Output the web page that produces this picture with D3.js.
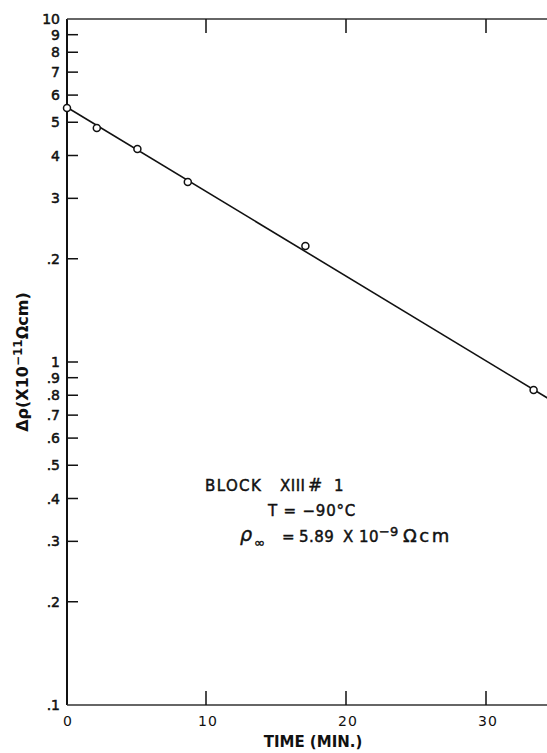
<!DOCTYPE html>
<html>
<head>
<meta charset="utf-8">
<script src="https://cdn.jsdelivr.net/npm/d3@7"></script>
<style>
  body { margin: 0; background: #fff; }
  svg { display: block; }
  text { font-family: "DejaVu Sans", sans-serif; fill: #111; }
</style>
</head>
<body>
<svg id="chart" width="547" height="753"></svg>
<script>
// measured points (time in min, delta rho in 1e-11 ohm cm)
const times = [0, 2.2, 5.1, 8.7, 17.1, 33.4];
const deltaRho = [5.5, 4.81, 4.18, 3.35, 2.18, 0.829];

// fitted straight line on the semilog plot
const fitTimes = [0, 34.4];
const fitValues = [5.55, 0.785];

const yTickValues = [10, 9, 8, 7, 6, 5, 4, 3, 2, 1, 0.9, 0.8, 0.7, 0.6, 0.5, 0.4, 0.3, 0.2, 0.1];
const yTickLabels = ["10", "9", "8", "7", "6", "5", "4", "3", ".2", "1", ".9", ".8", ".7", ".6", ".5", ".4", ".3", ".2", ".1"];
const xTickValues = [0, 10, 20, 30];
const xTickLabels = ["0", "10", "20", "30"];

const svg = d3.select("#chart");
const plotLeft = 67, plotTop = 19, plotBottom = 705, plotRight = 547;

const x = d3.scaleLinear().domain([0, (plotRight - 66) / 14]).range([66, plotRight]);
const y = d3.scaleLog().domain([0.1, 10]).range([plotBottom, plotTop]);

// frame
svg.append("line").attr("x1", plotLeft).attr("x2", plotLeft).attr("y1", plotTop).attr("y2", plotBottom)
  .attr("stroke", "#111").attr("stroke-width", 2);
svg.append("line").attr("x1", plotLeft).attr("x2", plotRight).attr("y1", plotBottom).attr("y2", plotBottom)
  .attr("stroke", "#333").attr("stroke-width", 1.5);
svg.append("line").attr("x1", plotLeft).attr("x2", plotRight).attr("y1", plotTop).attr("y2", plotTop)
  .attr("stroke", "#333").attr("stroke-width", 1.5);

// y ticks (inward) + labels
const yt = svg.append("g");
yTickValues.forEach((v, i) => {
  if (v !== 10 && v !== 0.1) {
    yt.append("line").attr("x1", plotLeft).attr("x2", plotLeft + 11)
      .attr("y1", y(v)).attr("y2", y(v)).attr("stroke", "#111").attr("stroke-width", 1.5);
  }
  yt.append("text").attr("x", 60).attr("y", y(v)).attr("dy", "0.36em")
    .attr("text-anchor", "end").attr("font-size", 14)
    .attr("stroke", "#111").attr("stroke-width", 0.5)
    .text(yTickLabels[i]);
});

// x ticks top and bottom (inward)
xTickValues.forEach((v, i) => {
  if (v > 0) {
    svg.append("line").attr("x1", x(v)).attr("x2", x(v)).attr("y1", plotBottom).attr("y2", plotBottom - 14)
      .attr("stroke", "#111").attr("stroke-width", 1.5);
    svg.append("line").attr("x1", x(v)).attr("x2", x(v)).attr("y1", plotTop).attr("y2", plotTop + 14)
      .attr("stroke", "#111").attr("stroke-width", 1.5);
  }
  svg.append("text").attr("x", x(v) + 2).attr("y", 726).attr("text-anchor", "middle")
    .attr("font-size", 14).attr("letter-spacing", 1).text(xTickLabels[i]);
});

// axis titles
svg.append("text").attr("x", 313).attr("y", 747).attr("text-anchor", "middle")
  .attr("font-size", 15).attr("font-weight", "bold").text("TIME (MIN.)");

const yl = svg.append("text").attr("transform", "translate(28,362) rotate(-90)")
  .attr("text-anchor", "middle").attr("font-size", 16).attr("font-weight", "bold");
yl.append("tspan").text("Δρ(X10");
yl.append("tspan").attr("dy", -6).attr("font-size", 12).text("−11");
yl.append("tspan").attr("dy", 6).text("Ωcm)");

// fitted line
const fit = fitTimes.map((t, i) => ({ t: t, v: fitValues[i] }));
svg.append("path").datum(fit)
  .attr("fill", "none").attr("stroke", "#111").attr("stroke-width", 1.6)
  .attr("d", d3.line().x(d => x(d.t)).y(d => y(d.v)));

// data points
svg.selectAll("circle.pt").data(times.map((t, i) => ({ t: t, v: deltaRho[i] })))
  .enter().append("circle").attr("class", "pt")
  .attr("cx", d => x(d.t) + (d.t === 0 ? 1 : 0)).attr("cy", d => y(d.v)).attr("r", 3.5)
  .attr("fill", "#fff").attr("stroke", "#111").attr("stroke-width", 1.5);

// annotation
const ann = svg.append("g").attr("font-size", 15).attr("stroke", "#111").attr("stroke-width", 0.45);
const b = ann.append("text").attr("y", 491).attr("letter-spacing", 1.4);
b.append("tspan").attr("x", 205).text("BLOCK");
b.append("tspan").attr("x", 280).attr("letter-spacing", 0.5).text("XIII");
b.append("tspan").attr("x", 308).attr("font-size", 17).text("#");
b.append("tspan").attr("x", 334).text("1");
ann.append("text").attr("x", 268).attr("y", 516).attr("letter-spacing", 0.8).text("T = −90°C");
ann.append("text").attr("x", 240).attr("y", 541).attr("font-size", 19).attr("font-style", "italic").text("ρ");
ann.append("text").attr("x", 254).attr("y", 547).attr("font-size", 13).text("∞");
const r = ann.append("text").attr("y", 542).attr("letter-spacing", 0.5);
r.append("tspan").attr("x", 282).text("=");
r.append("tspan").attr("x", 299).text("5.89");
r.append("tspan").attr("x", 343).text("X");
r.append("tspan").attr("x", 359).text("10");
r.append("tspan").attr("dy", -6).attr("font-size", 13).attr("letter-spacing", 0).text("−9");
r.append("tspan").attr("x", 403).attr("dy", 6).attr("font-size", 18).attr("letter-spacing", 2.5).text("Ωcm");
</script>
</body>
</html>
